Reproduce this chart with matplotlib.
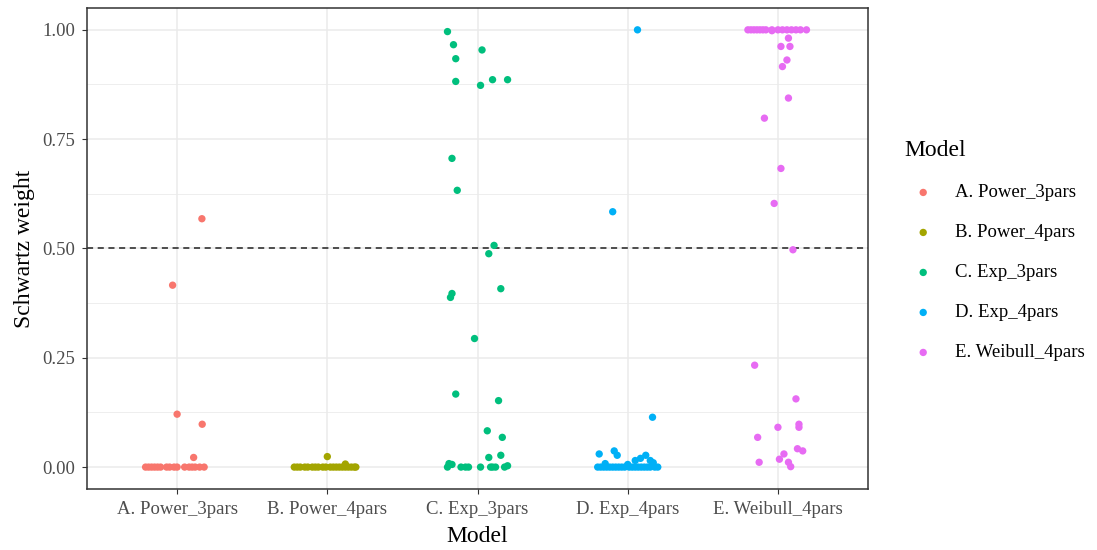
import numpy as np
from matplotlib import pyplot as plt

# ---- DATA ----
models = ["A. Power_3pars", "B. Power_4pars", "C. Exp_3pars", "D. Exp_4pars", "E. Weibull_4pars"]
colors = ["#F8766D", "#A3A500", "#00BF7D", "#00B0F6", "#E76BF3"]

# Schwartz weights per model, with the horizontal jitter
weights_a = [0.568, 0.416, 0.121, 0.098, 0.022,
             0, 0, 0, 0, 0, 0, 0, 0, 0, 0, 0, 0, 0, 0, 0, 0]
jitter_a = [0.165, -0.03, 0.0, 0.167, 0.11,
            -0.21, -0.19, -0.17, -0.15, -0.13, -0.11, -0.07, -0.05, -0.02, 0.0,
            0.05, 0.08, 0.1, 0.12, 0.15, 0.18]

weights_b = [0.024, 0.007,
             0, 0, 0, 0, 0, 0, 0, 0, 0, 0, 0, 0, 0, 0, 0, 0, 0, 0, 0, 0]
jitter_b = [0.0, 0.12,
            -0.22, -0.2, -0.18, -0.15, -0.13, -0.1, -0.08, -0.06, -0.03, -0.01,
            0.02, 0.04, 0.06, 0.08, 0.1, 0.12, 0.14, 0.16, 0.18, 0.19]

weights_c = [0.996, 0.966, 0.934, 0.882, 0.954, 0.873, 0.886, 0.886, 0.706, 0.633,
             0.507, 0.488, 0.397, 0.388, 0.408, 0.294, 0.167, 0.152, 0.083, 0.068,
             0.022, 0.027, 0.006, 0.008, 0.003, 0, 0, 0, 0, 0, 0, 0, 0, 0]
jitter_c = [-0.2, -0.16, -0.145, -0.145, 0.03, 0.02, 0.1, 0.2, -0.17, -0.135,
            0.11, 0.075, -0.17, -0.18, 0.155, -0.02, -0.145, 0.14, 0.065, 0.165,
            0.075, 0.155, -0.17, -0.19, 0.2, -0.11, -0.08, -0.06, 0.02, 0.087,
            0.12, 0.18, -0.2, 0.1]

weights_d = [1.0, 0.584, 0.114, 0.030, 0.037, 0.027, 0.027, 0.02, 0.015, 0.015,
             0.008, 0.006, 0.01,
             0, 0, 0, 0, 0, 0, 0, 0, 0, 0, 0, 0, 0, 0, 0, 0, 0, 0, 0, 0]
jitter_d = [0.065, -0.1, 0.165, -0.19, -0.09, -0.07, 0.12, 0.085, 0.05, 0.15,
            -0.15, 0.0, 0.17,
            -0.2, -0.18, -0.16, -0.14, -0.12, -0.1, -0.08, -0.06, -0.04, -0.02,
            0.01, 0.03, 0.05, 0.07, 0.09, 0.11, 0.13, 0.15, 0.18, 0.2]

weights_e = [1.0, 1.0, 1.0, 1.0, 1.0, 1.0, 1.0, 1.0, 1.0, 1.0, 1.0, 1.0, 1.0, 1.0, 1.0,
             0.998, 0.981, 0.962, 0.962, 0.931, 0.916, 0.844, 0.798, 0.683, 0.603,
             0.497, 0.233, 0.156, 0.098, 0.091, 0.091, 0.068, 0.042, 0.037, 0.030,
             0.018, 0.011, 0.011, 0.001]
jitter_e = [-0.2, -0.18, -0.16, -0.14, -0.12, -0.1, -0.08, -0.04, 0.0, 0.03,
            0.06, 0.09, 0.12, 0.15, 0.19,
            -0.04, 0.07, 0.02, 0.08, 0.06, 0.03, 0.07, -0.09, 0.02, -0.025,
            0.1, -0.155, 0.12, 0.14, 0.14, 0.0, -0.135, 0.13, 0.165, 0.04,
            0.01, -0.125, 0.07, 0.085]

weights = [weights_a, weights_b, weights_c, weights_d, weights_e]
jitters = [jitter_a, jitter_b, jitter_c, jitter_d, jitter_e]

# ---- PLOT ----
plt.rcParams['font.family'] = ['Liberation Serif', 'DejaVu Serif']

fig = plt.figure(figsize=(10.97, 5.5), dpi=100)
ax = fig.add_axes([0.0793, 0.111, 0.712, 0.8745])

grid_col = "#EBEBEB"
for y in [0.125, 0.375, 0.625, 0.875]:
    ax.axhline(y, color=grid_col, lw=0.6, zorder=0)
for y in [0, 0.25, 0.5, 0.75, 1.0]:
    ax.axhline(y, color=grid_col, lw=1.1, zorder=0)
for i in range(len(models)):
    ax.axvline(i + 1, color=grid_col, lw=1.1, zorder=0)

ax.axhline(0.5, color="#222222", lw=1.1, ls=(0, (4, 3)), zorder=1)

for i, (m, c) in enumerate(zip(models, colors)):
    x = np.array(jitters[i]) + i + 1
    ax.scatter(x, weights[i], s=28, color=c, edgecolors="none", label=m, zorder=2)

ax.set_xlim(0.4, 5.6)
ax.set_ylim(-0.05, 1.05)
ax.set_xticks(range(1, 6))
ax.set_xticklabels(models)
ax.set_yticks([0, 0.25, 0.5, 0.75, 1.0])
ax.set_yticklabels(["0.00", "0.25", "0.50", "0.75", "1.00"])
ax.tick_params(axis="both", labelsize=13.5, labelcolor="#4D4D4D", color="#333333",
               length=3.5, width=0.8, pad=5)
for sp in ax.spines.values():
    sp.set_color("#333333")
    sp.set_linewidth(1.1)

ax.set_xlabel("Model", fontsize=17, labelpad=6)
ax.set_ylabel("Schwartz weight", fontsize=17, labelpad=5)

leg = ax.legend(title="Model", loc="center left", bbox_to_anchor=(1.025, 0.495),
                frameon=False, fontsize=13.5, title_fontsize=17,
                labelspacing=1.22, handletextpad=0.68, markerscale=1.0)
leg._legend_box.align = "left"

fig.savefig("out.png", dpi=100)
